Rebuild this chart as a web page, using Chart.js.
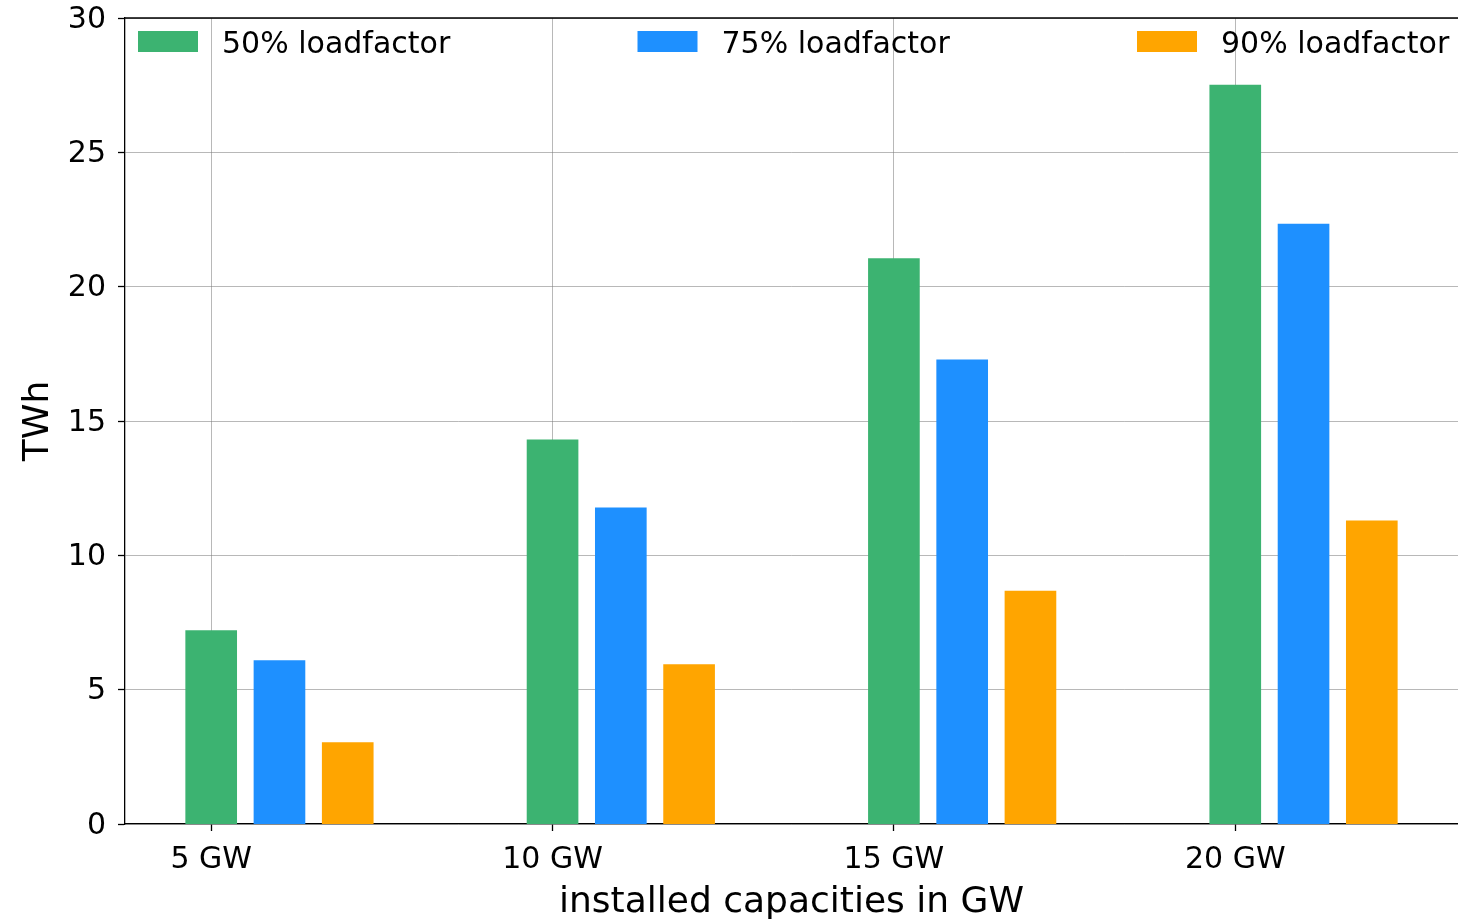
<!DOCTYPE html>
<html>
<head>
<meta charset="utf-8">
<script src="https://cdn.jsdelivr.net/npm/chart.js@4.4.1/dist/chart.umd.min.js"></script>
<style>
  html, body { margin: 0; padding: 0; background: #fff; }
  #wrap { width: 1458px; height: 922px; }
</style>
</head>
<body>
<div id="wrap"><canvas id="barChart"></canvas></div>
<script>
var categories = ['5 GW', '10 GW', '15 GW', '20 GW'];
var seriesNames = ['50% loadfactor', '75% loadfactor', '90% loadfactor'];
var load50 = [7.2, 14.3, 21.05, 27.5];
var load75 = [6.08, 11.77, 17.28, 22.33];
var load90 = [3.03, 5.93, 8.67, 11.28];
var yTicks = [0, 5, 10, 15, 20, 25, 30];

var colors = ['#3cb371', '#1e90ff', '#ffa500'];
var font = "'DejaVu Sans', sans-serif";

// bars of one group sit next to each other, green on the tick
function toPoints(values, shift) {
  return values.map(function(v, i) { return { x: i + shift, y: v }; });
}

var datasets = [load50, load75, load90].map(function(values, k) {
  return {
    label: seriesNames[k],
    data: toPoints(values, k * 0.2),
    backgroundColor: colors[k],
    borderWidth: 0,
    grouped: false,
    barThickness: 51
  };
});

// legend inside the plot, spread over the top like matplotlib's mode="expand"
var innerLegend = {
  id: 'innerLegend',
  afterDraw: function(chart) {
    var ctx = chart.ctx, area = chart.chartArea;
    ctx.save();
    ctx.font = '30px ' + font;
    ctx.textBaseline = 'middle';
    chart.data.datasets.forEach(function(ds, k) {
      var x = area.left + 13 + k * 499.5;
      ctx.fillStyle = ds.backgroundColor;
      ctx.fillRect(x, area.top + 13, 60, 21);
      ctx.fillStyle = '#000';
      ctx.fillText(ds.label, x + 84, area.top + 27);
    });
    // top spine
    ctx.strokeStyle = '#000';
    ctx.lineWidth = 1.3;
    ctx.beginPath();
    ctx.moveTo(area.left, area.top);
    ctx.lineTo(area.right, area.top);
    ctx.stroke();
    ctx.restore();
  }
};

var gridStyle = {
  color: 'rgba(128,128,128,0.7)',
  lineWidth: 0.8,
  tickColor: '#000',
  tickLength: 7,
  tickWidth: 1.3,
  offset: false
};

new Chart(document.getElementById('barChart').getContext('2d'), {
  type: 'bar',
  data: { datasets: datasets },
  options: {
    responsive: true,
    maintainAspectRatio: false,
    animation: false,
    layout: { padding: { top: 18, right: 0, left: 0, bottom: 0 } },
    plugins: { legend: { display: false }, tooltip: { enabled: false } },
    scales: {
      x: {
        type: 'linear',
        min: -0.2525,
        max: 3.6525,
        offset: false,
        z: 1,
        afterBuildTicks: function(scale) {
          scale.ticks = categories.map(function(c, i) { return { value: i }; });
        },
        afterFit: function(scale) {
          scale.height = 98;
          scale.paddingLeft = 0;
          scale.paddingRight = 0;
        },
        ticks: {
          callback: function(v) { return categories[v]; },
          font: { family: font, size: 30 },
          color: '#000',
          padding: 11,
          maxRotation: 0
        },
        grid: gridStyle,
        border: { display: true, color: '#000', width: 1.3 },
        title: {
          display: true,
          text: 'installed capacities in GW',
          font: { family: font, size: 36, lineHeight: 1.05 },
          color: '#000',
          padding: 0
        }
      },
      y: {
        min: 0,
        max: 30,
        z: 1,
        afterBuildTicks: function(scale) {
          scale.ticks = yTicks.map(function(v) { return { value: v }; });
        },
        afterFit: function(scale) {
          scale.width = 125;
          scale.paddingTop = 0;
          scale.paddingBottom = 0;
        },
        ticks: {
          font: { family: font, size: 30 },
          color: '#000',
          padding: 12,
          labelOffset: 2
        },
        grid: gridStyle,
        border: { display: true, color: '#000', width: 1.3 },
        title: {
          display: true,
          text: 'TWh',
          font: { family: font, size: 36 },
          color: '#000',
          padding: { top: 17, bottom: 0 }
        }
      }
    }
  },
  plugins: [innerLegend]
});
</script>
</body>
</html>
